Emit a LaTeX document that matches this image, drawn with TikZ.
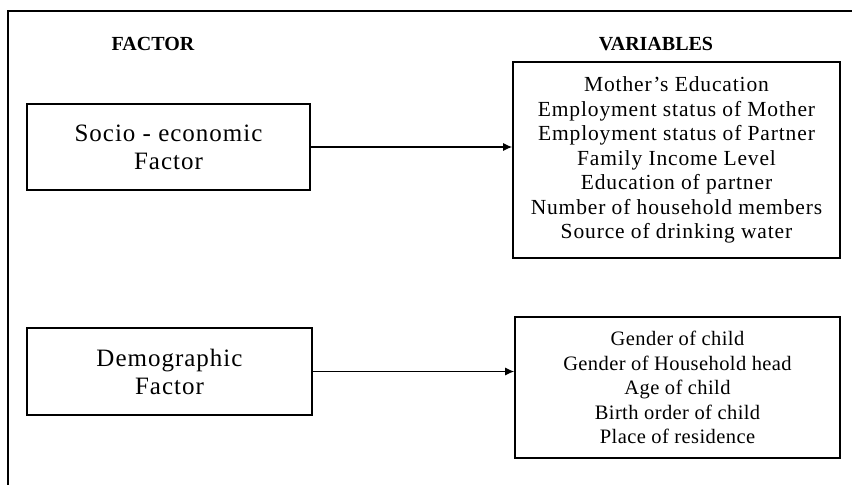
\documentclass[tikz,border=0pt]{standalone}
\usepackage{fontspec}
\setmainfont{Liberation Serif}
\usetikzlibrary{arrows.meta}

\tikzset{
  factorbox/.style={draw, line width=1.6pt, align=center, inner sep=0pt,
    font=\fontsize{25}{28}\selectfont\addfontfeature{LetterSpace=4}},
  varbox/.style={draw, line width=1.6pt, align=center, inner sep=0pt,
    font=\fontsize{21.5}{24.5}\selectfont\addfontfeature{LetterSpace=4}},
  smallvarbox/.style={varbox,
    font=\fontsize{20.5}{24.5}\selectfont\addfontfeature{LetterSpace=2}},
  heading/.style={font=\bfseries\fontsize{20}{22}\selectfont},
  link/.style={line width=1.2pt, -{Latex[length=9pt,width=8pt]}}
}

\begin{document}
\begin{tikzpicture}[x=1pt,y=-1pt]

  \useasboundingbox (0,0) rectangle (852,485);

  % outer frame, only top and left show
  \draw[line width=2pt] (852,11) -- (8,11) -- (8,485);

  \node[heading] (factorhead) at (153,44) {FACTOR};
  \node[heading] (varhead) at (656,44) {VARIABLES};

  % factors
  \node[factorbox, minimum width=283pt, minimum height=86pt]
    (socio) at (168.5,147) {Socio - economic\\Factor};
  \node[factorbox, minimum width=285pt, minimum height=87pt]
    (demo) at (169.5,371.5) {Demographic\\Factor};

  % variables
  \node[varbox, minimum width=327pt, minimum height=196pt]
    (sociovars) at (676.5,160) {Mother's Education\\
      Employment status of Mother\\
      Employment status of Partner\\
      Family Income Level\\
      Education of partner\\
      Number of household members\\
      Source of drinking water};
  \node[smallvarbox, minimum width=325pt, minimum height=141pt]
    (demovars) at (677.5,387.5) {Gender of child\\
      Gender of Household head\\
      Age of child\\
      Birth order of child\\
      Place of residence};

  \draw[link] (socio.east) -- (socio.east -| sociovars.west);
  \draw[link] (demo.east) -- (demo.east -| demovars.west);

\end{tikzpicture}
\end{document}
